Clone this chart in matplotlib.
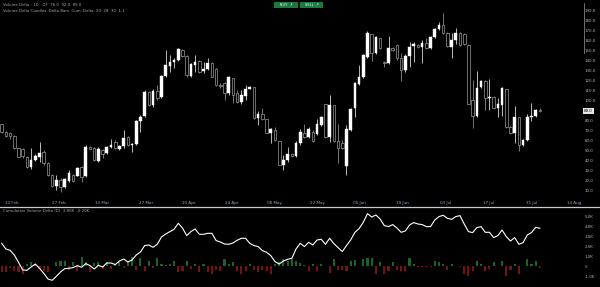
import numpy as np
import matplotlib
matplotlib.use("Agg")
import matplotlib.pyplot as plt
from matplotlib.lines import Line2D
from matplotlib.patches import Rectangle

# Daily candles (price units) + cumulative volume delta panel, dark theme

open_ = [76, 68, 67, 64, 52, 51, 43, 33, 40, 43, 48, 37, 25, 14, 20, 13, 19, 25, 24, 33,
         24, 53, 52, 39, 50, 47, 53, 58, 51, 54, 63, 55, 56, 79, 84, 108, 95, 109, 103, 124,
         134, 138, 140, 150, 144, 124, 135, 139, 129, 131, 137, 131, 115, 117, 107, 122, 107, 98, 104, 111,
         113, 82, 86, 81, 67, 70, 59, 35, 40, 46, 44, 57, 67, 63, 68, 66, 75, 96, 63, 95,
         59, 57, 34, 70, 92, 116, 123, 143, 166, 147, 162, 138, 137, 152, 155, 142, 130, 144, 154, 155,
         153, 157, 152, 163, 171, 175, 167, 153, 160, 167, 166, 155, 100, 84, 113, 119, 102, 103, 92, 95,
         111, 73, 67, 83, 55, 60, 83, 84, 90]
high = [76, 69, 68, 65, 52, 52, 44, 52, 46, 58, 50, 38, 26, 25, 22, 22, 30, 26, 33, 34,
        55, 54, 53, 53, 51, 54, 61, 60, 55, 70, 64, 57, 80, 85, 110, 109, 111, 115, 125, 150,
        145, 142, 152, 151, 145, 137, 145, 140, 138, 142, 138, 132, 117, 118, 124, 122, 110, 110, 115, 114,
        113, 89, 92, 81, 72, 73, 59, 45, 53, 47, 59, 71, 76, 73, 70, 81, 84, 96, 105, 95,
        76, 60, 75, 92, 118, 135, 146, 169, 166, 164, 162, 139, 164, 153, 156, 147, 146, 158, 158, 156,
        160, 162, 164, 172, 178, 187, 168, 167, 172, 168, 167, 156, 120, 129, 120, 120, 121, 104, 102, 113,
        111, 74, 94, 83, 61, 86, 97, 91, 92]
low = [67, 63, 61, 51, 43, 42, 32, 31, 39, 38, 35, 24, 13, 10, 8, 12, 18, 18, 24, 18,
       23, 51, 39, 38, 42, 46, 52, 51, 50, 52, 54, 48, 55, 68, 83, 94, 93, 100, 102, 123,
       128, 132, 139, 143, 123, 123, 128, 127, 127, 130, 123, 114, 112, 100, 105, 97, 97, 96, 100, 111,
       81, 75, 80, 67, 57, 59, 35, 30, 38, 43, 43, 55, 62, 62, 58, 65, 74, 62, 58, 58,
       37, 51, 25, 69, 83, 115, 122, 142, 139, 146, 151, 133, 136, 149, 140, 119, 128, 133, 138, 152,
       137, 151, 151, 162, 170, 166, 153, 142, 156, 154, 155, 96, 72, 83, 112, 90, 90, 91, 83, 84,
       72, 66, 57, 49, 54, 59, 79, 83, 88]
close = [68, 64, 64, 52, 43, 44, 33, 40, 44, 47, 37, 25, 14, 20, 13, 21, 27, 19, 32, 23,
         53, 51, 40, 51, 46, 53, 55, 52, 54, 62, 55, 56, 79, 83, 108, 95, 109, 102, 124, 135,
         138, 140, 151, 144, 125, 136, 138, 128, 131, 137, 123, 115, 114, 107, 123, 105, 98, 105, 111, 113,
         82, 86, 81, 67, 71, 60, 35, 40, 46, 44, 57, 68, 63, 71, 59, 76, 83, 63, 95, 59,
         52, 52, 71, 91, 117, 123, 145, 167, 147, 163, 152, 137, 152, 150, 142, 130, 144, 153, 156, 153,
         157, 152, 163, 171, 175, 167, 154, 160, 167, 155, 156, 96, 84, 112, 119, 102, 103, 92, 96, 112,
         73, 67, 83, 55, 60, 83, 84, 90, 89]

# cumulative volume delta (K) and per-bar delta (K)
cvd = [2.30, 1.73, 1.60, 1.13, 0.40, -0.37, -0.40, -0.07, 0.23, -0.20, -0.70, -1.27, -1.40, -1.00, -0.57,
       -0.23, -0.20, -0.13, 0.07, -0.10, 0.27, 0.07, -0.27, 0.10, -0.07, 0.33, 0.33, 0.17, 0.53, 0.73,
       0.43, 0.63, 1.13, 1.43, 2.07, 2.13, 1.90, 2.20, 2.93, 3.23, 3.47, 3.70, 4.30, 3.83, 3.07,
       3.47, 3.73, 3.20, 3.20, 3.30, 3.30, 2.57, 2.43, 2.23, 2.20, 2.33, 2.60, 2.80, 2.80, 2.30,
       2.07, 1.97, 1.57, 1.40, 1.07, 0.47, 0.23, 0.53, 0.70, 0.80, 1.73, 2.30, 1.97, 2.40, 2.13,
       2.63, 2.70, 2.20, 2.80, 2.27, 1.87, 1.47, 2.07, 2.63, 3.40, 3.77, 4.40, 5.27, 4.93, 5.13,
       4.73, 4.07, 3.97, 4.17, 3.83, 3.40, 3.53, 4.13, 4.37, 4.23, 4.17, 3.97, 3.97, 4.63, 4.97,
       5.10, 4.80, 4.70, 4.97, 5.07, 4.23, 3.47, 3.37, 3.87, 3.97, 3.40, 3.40, 2.87, 3.07, 3.63,
       2.97, 2.53, 2.87, 2.20, 2.37, 3.13, 3.37, 3.90, 3.80]
delta = [-0.60, -0.60, -0.15, -0.43, -0.53, -0.77, 0.23, 0.40, 0.23, -0.27, -0.43, -0.60, 0.07, 0.40, 0.57,
         0.57, -0.33, 0.47, -0.43, 0.90, 0.40, -0.60, 0.30, 0.40, -0.27, 0.40, -0.27, 0.23, 0.40, -0.20,
         0.40, 0.90, -0.33, 0.80, -0.43, 0.57, -0.20, 0.80, 0.23, 0.13, 0.23, 0.57, -0.60, -0.43, 0.57,
         -0.27, 0.23, -0.53, 0.23, -0.60, -0.77, -0.33, -0.43, 0.73, 0.23, 0.40, -0.43, -0.77, -0.43, 0.23,
         -0.33, -0.53, -0.33, -0.43, -0.77, 0.23, 0.40, 0.73, 0.57, 0.73, 0.50, 0.30, 0.10, -0.43, 0.23,
         -0.43, 0.23, 0.07, -0.67, 0.73, -0.33, -0.33, -0.43, 0.57, 0.67, 0.07, 0.73, 0.80, 0.80, -0.77,
         0.47, -0.77, -0.43, 0.47, -0.33, -0.43, -0.43, 0.80, 0.23, -0.10, -0.10, -0.03, -0.10, 0.57, 0.40,
         0.23, -0.33, 0.23, 0.07, -0.10, -0.77, -0.93, -0.43, 0.57, 0.23, -0.43, -0.27, 0.40, 0.07, 0.57,
         -0.93, -0.33, 0.23, -0.77, 0.07, 0.73, 0.23, 0.57, -0.20]

date_pos = [2.45, 13.6, 23.9, 34.3, 44.5, 54.8, 64.8, 75.0, 85.2, 95.4, 105.7, 115.9, 126.1, 136.1]
date_labels = ["13 Feb", "27 Feb", "13 Mar", "27 Mar", "10 Apr", "24 Apr", "08 May",
               "22 May", "05 Jun", "19 Jun", "03 Jul", "17 Jul", "31 Jul", "14 Aug"]
# the 90 level is covered by the last-price marker
price_ticks = [10, 20, 30, 40, 50, 60, 70, 80, 100, 110, 120, 130, 140, 150, 160, 170, 180, 190]
cvd_ticks = [-1, 0, 1, 2, 3, 4, 5]

W, H = 600, 287
fig = plt.figure(figsize=(W / 100, H / 100), dpi=100, facecolor="black")

# main price panel: px rows 0..207, columns 0..579
ax = fig.add_axes([0, (H - 207) / H, 579 / W, 207 / H], facecolor="black")
ax2 = fig.add_axes([0, 0, 579 / W, 79 / H], facecolor="black")

x = np.arange(len(close))
o = np.array(open_)
c = np.array(close)
up = c >= o

ax.vlines(x[up], np.array(low)[up], np.array(high)[up], color="#d8d8d8", lw=0.6, zorder=1)
ax.vlines(x[~up], np.array(low)[~up], np.array(high)[~up], color="#8a8a8a", lw=0.6, zorder=1)
body = np.where(np.abs(c - o) < 0.6, 0.6, c - o)
ax.bar(x[up], body[up], bottom=o[up], width=0.62, color="white", edgecolor="white", lw=0.3, zorder=2)
ax.bar(x[~up], body[~up], bottom=o[~up], width=0.62, color="black", edgecolor="#9a9a9a", lw=0.5, zorder=2)

ax.set_xlim(-0.4, 137.3)
ax.set_ylim(-7, 200)
ax.yaxis.tick_right()
ax.set_yticks(price_ticks)
ax.set_yticklabels([f"{v:.1f}" for v in price_ticks])
ax.tick_params(axis="y", length=0, pad=4, labelsize=2.9, labelcolor="#b4b4b4")
ax.set_xticks(date_pos)
ax.set_xticklabels(date_labels)
ax.tick_params(axis="x", length=0, pad=-4, labelsize=3.0, labelcolor="#8fa9cc")
for s in ax.spines.values():
    s.set_visible(False)

# last price marker
ax.text(1.009, close[-1], f"{close[-1]:.1f}", transform=ax.get_yaxis_transform(),
        fontsize=2.9, color="black", va="center", ha="left",
        bbox=dict(boxstyle="square,pad=0.2", fc="#e8e8e8", ec="none"))

# lower panel: cumulative delta line + delta histogram
cols = ["#1a6228" if d >= 0 else "#701414" for d in delta]
ax2.bar(x, delta, width=0.5, color=cols, zorder=1)
ax2.plot(x, cvd, color="white", lw=0.8, zorder=2)
ax2.set_xlim(-0.4, 137.3)
ax2.set_ylim(-2.07, 5.83)
ax2.yaxis.tick_right()
ax2.set_yticks(cvd_ticks)
ax2.set_yticklabels(["0" if v == 0 else f"{v:.1f}K" for v in cvd_ticks])
ax2.tick_params(axis="y", length=0, pad=4, labelsize=2.9, labelcolor="#b4b4b4")
ax2.set_xticks([])
for s in ax2.spines.values():
    s.set_visible(False)

# separator between panels
sep = (H - 207) / H
fig.add_artist(Line2D([0, 1], [sep, sep], transform=fig.transFigure, color="#c8c8c8", lw=0.9))
fig.add_artist(Line2D([584 / W, 584 / W], [1 - 3 / H, 1 - 53 / H], transform=fig.transFigure,
                      color="#9a9a9a", lw=0.5))

# header texts
fig.text(3 / W, 1 - 5 / H, "Volume Delta · 1D · OF  76.0  92.0  89.0",
         fontsize=2.8, color="#a8a8a8", va="center")
fig.text(3 / W, 1 - 11 / H, "Volume Delta Candles  Delta Bars  Cum. Delta  20  28  30  1.1",
         fontsize=2.8, color="#a8a8a8", va="center")
fig.text(3 / W, 1 - 211 / H, "Cumulative Volume Delta (D)  3.80K  -0.20K",
         fontsize=2.8, color="#a8a8a8", va="center")

# two green toolbar buttons
for x0, x1, lab in [(274, 298, "BUY  ↗"), (300, 323, "SELL  ↗")]:
    fig.add_artist(Rectangle((x0 / W, 1 - 8 / H), (x1 - x0) / W, 6 / H, transform=fig.transFigure,
                             fc="#1b7a3c", ec="none"))
    fig.text((x0 + x1) / 2 / W, 1 - 5 / H, lab, fontsize=2.6, color="white", ha="center", va="center")

fig.savefig("out.png", dpi=100, facecolor="black")
